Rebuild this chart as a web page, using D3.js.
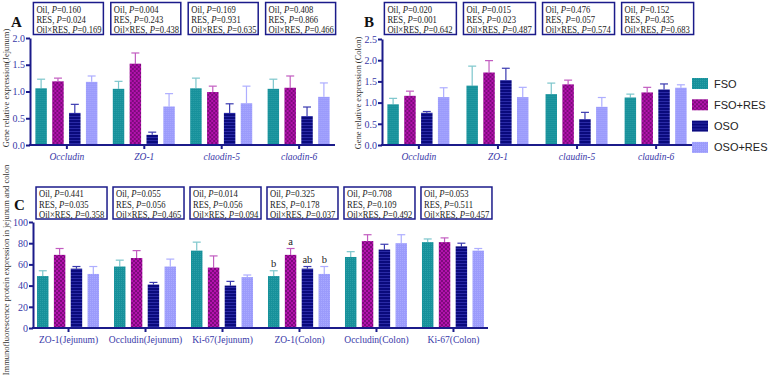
<!DOCTYPE html>
<html>
<head>
<meta charset="utf-8">
<script src="https://cdn.jsdelivr.net/npm/d3@7"></script>
<style>
  body { margin: 0; background: #fff; }
  svg text { font-family: "Liberation Serif", "Times New Roman", serif; }
  svg text.sans { font-family: "Liberation Sans", Arial, sans-serif; }
</style>
</head>
<body>
<div id="chart"></div>
<script>
// groups / treatments
const groups = ["FSO", "FSO+RES", "OSO", "OSO+RES"];

// panel A - jejunum gene expression
const genesA = ["Occludin", "ZO-1", "claodin-5", "claodin-6"];
const meanA = [[1.06, 1.19, 0.60, 1.18], [1.05, 1.52, 0.19, 0.72], [1.06, 0.99, 0.60, 0.78], [1.05, 1.07, 0.54, 0.90]];
const errA = [[0.17, 0.06, 0.16, 0.11], [0.14, 0.20, 0.05, 0.24], [0.19, 0.11, 0.17, 0.32], [0.18, 0.22, 0.17, 0.26]];
const pA = [["0.160", "0.024", "0.169"], ["0.004", "0.243", "0.438"], ["0.169", "0.931", "0.635"], ["0.408", "0.866", "0.466"]];
const ticksA = [0, 0.5, 1.0, 1.5, 2.0];

// panel B - colon gene expression
const genesB = ["Occludin", "ZO-1", "claudin-5", "claudin-6"];
const meanB = [[0.96, 1.16, 0.76, 1.13], [1.40, 1.71, 1.53, 1.13], [1.20, 1.43, 0.61, 0.90], [1.12, 1.24, 1.31, 1.35]];
const errB = [[0.14, 0.11, 0.03, 0.22], [0.46, 0.28, 0.28, 0.23], [0.26, 0.10, 0.16, 0.22], [0.08, 0.12, 0.13, 0.07]];
const pB = [["0.020", "0.001", "0.642"], ["0.015", "0.023", "0.487"], ["0.476", "0.057", "0.574"], ["0.152", "0.435", "0.683"]];
const ticksB = [0, 0.5, 1.0, 1.5, 2.0, 2.5];

// panel C - immunofluorescence
const catsC = ["ZO-1(Jejunum)", "Occludin(Jejunum)", "Ki-67(Jejunum)", "ZO-1(Colon)", "Occludin(Colon)", "Ki-67(Colon)"];
const meanC = [[49, 69, 56, 51], [58, 66, 41, 58], [73, 57, 40, 48], [49, 69, 56, 51], [67, 82, 74, 80], [81, 81, 77, 73]];
const errC = [[5, 6, 2, 7], [6, 7, 2, 7], [8, 11, 4, 2], [5, 6, 2, 7], [5, 6, 5, 8], [3, 4, 3, 2]];
const pC = [["0.441", "0.035", "0.358"], ["0.055", "0.056", "0.465"], ["0.014", "0.056", "0.094"], ["0.325", "0.178", "0.037"], ["0.708", "0.109", "0.492"], ["0.053", "0.511", "0.457"]];
const lettersC = [null, null, null, ["b", "a", "ab", "b"], null, null];
const ticksC = [0, 20, 40, 60, 80, 100];

const axisColor = "#1b1b8a";
const tickTextColor = "#3838a8";
const serif = "'Liberation Serif', 'Times New Roman', serif";

const svg = d3.select("#chart").append("svg")
    .attr("width", 777)
    .attr("height", 383);

// patterns
const defs = svg.append("defs");

let pTeal = defs.append("pattern").attr("id", "pat-teal").attr("patternUnits", "userSpaceOnUse")
    .attr("width", 2).attr("height", 2);
pTeal.append("rect").attr("width", 2).attr("height", 2).attr("fill", "#17919b");
pTeal.append("rect").attr("width", 1).attr("height", 1).attr("fill", "#2a9ea6");

let pPurple = defs.append("pattern").attr("id", "pat-purple").attr("patternUnits", "userSpaceOnUse")
    .attr("width", 4).attr("height", 4);
pPurple.append("rect").attr("width", 4).attr("height", 4).attr("fill", "#b312ad");
pPurple.append("rect").attr("width", 2).attr("height", 2).attr("fill", "#7d0a7c");
pPurple.append("rect").attr("x", 2).attr("y", 2).attr("width", 2).attr("height", 2).attr("fill", "#7d0a7c");

let pNavy = defs.append("pattern").attr("id", "pat-navy").attr("patternUnits", "userSpaceOnUse")
    .attr("width", 4).attr("height", 3);
pNavy.append("rect").attr("width", 4).attr("height", 3).attr("fill", "#0a0a7c");
pNavy.append("rect").attr("y", 2).attr("width", 4).attr("height", 1).attr("fill", "#2a2aa6");

let pLight = defs.append("pattern").attr("id", "pat-light").attr("patternUnits", "userSpaceOnUse")
    .attr("width", 2).attr("height", 2);
pLight.append("rect").attr("width", 2).attr("height", 2).attr("fill", "#9b9bfb");
pLight.append("rect").attr("width", 1).attr("height", 1).attr("fill", "#a9a9ff");

const fills = ["url(#pat-teal)", "url(#pat-purple)", "url(#pat-navy)", "url(#pat-light)"];
const errColors = ["#7cc6cc", "#c25cc0", "#3a3ab0", "#aeaeff"];

function drawPanel(cfg) {
    let g = svg.append("g");

    let y = d3.scaleLinear().domain(cfg.domain).range([cfg.y0, cfg.y1]);
    let x = d3.scalePoint().domain(cfg.cats).range([cfg.x0, cfg.x1]).padding(cfg.pad);
    let inner = d3.scaleBand().domain(groups).range([-31, 31]).paddingInner(0.32);

    // bars
    cfg.cats.forEach((cat, ci) => {
        let cg = g.append("g").attr("transform", `translate(${x(cat)},0)`);
        groups.forEach((grp, gi) => {
            let v = cfg.mean[ci][gi];
            let e = cfg.err[ci][gi];
            let bx = inner(grp);
            let cx = bx + inner.bandwidth() / 2;
            cg.append("line")
                .attr("x1", cx).attr("x2", cx)
                .attr("y1", y(v)).attr("y2", y(v + e))
                .attr("stroke", errColors[gi]).attr("stroke-width", 1.2);
            cg.append("line")
                .attr("x1", cx - 4).attr("x2", cx + 4)
                .attr("y1", y(v + e)).attr("y2", y(v + e))
                .attr("stroke", errColors[gi]).attr("stroke-width", 1.2);
            cg.append("rect")
                .attr("x", bx)
                .attr("y", y(v))
                .attr("width", inner.bandwidth())
                .attr("height", y(0) - y(v))
                .attr("fill", fills[gi]);
            if (cfg.letters && cfg.letters[ci]) {
                cg.append("text")
                    .attr("x", cx)
                    .attr("y", y(v + e) - 4)
                    .attr("text-anchor", "middle")
                    .attr("font-size", "10.5px")
                    .attr("font-family", serif)
                    .attr("fill", "#222")
                    .text(cfg.letters[ci][gi]);
            }
        });
    });

    // y axis
    let yAxis = d3.axisLeft(y).tickValues(cfg.ticks).tickSize(4).tickSizeOuter(0)
        .tickFormat(cfg.fmt);
    let yg = g.append("g").attr("transform", `translate(${cfg.x0},0)`).call(yAxis)
        .attr("font-family", serif);
    yg.select(".domain").attr("stroke", axisColor).attr("stroke-width", 2);
    yg.selectAll(".tick line").attr("stroke", axisColor).attr("stroke-width", 2);
    yg.selectAll(".tick text").attr("fill", tickTextColor)
        .style("font-size", "10px").attr("x", -5);

    // x axis
    let xAxis = d3.axisBottom(x).tickSize(4).tickSizeOuter(0);
    let xg = g.append("g").attr("transform", `translate(0,${cfg.y0})`).call(xAxis)
        .attr("font-family", serif);
    xg.select(".domain").attr("stroke", axisColor).attr("stroke-width", 2)
        .attr("d", `M${cfg.x0 - 1},0H${cfg.x1}`);
    xg.selectAll(".tick line").attr("stroke", axisColor).attr("stroke-width", 2);
    xg.selectAll(".tick text").attr("fill", tickTextColor)
        .style("font-size", "9.5px")
        .style("font-style", cfg.italic ? "italic" : "normal")
        .attr("y", 8);

    // y label
    g.append("text")
        .attr("transform", `translate(${cfg.labelX},${cfg.labelY}) rotate(-90)`)
        .attr("text-anchor", "middle")
        .attr("font-size", cfg.labelSize)
        .attr("font-family", serif)
        .attr("fill", "#333")
        .text(cfg.yLabel);

    // panel letter
    g.append("text")
        .attr("x", cfg.letterX).attr("y", cfg.letterY)
        .attr("font-size", "15px").attr("font-weight", "bold")
        .attr("font-family", serif)
        .attr("fill", "#111")
        .text(cfg.letter);

    // P value boxes
    cfg.cats.forEach((cat, ci) => {
        let bx = x(cat) + cfg.boxDx;
        let bg = g.append("g").attr("transform", `translate(${bx},${cfg.boxY})`);
        bg.append("rect")
            .attr("width", cfg.boxW).attr("height", 32)
            .attr("fill", "#fff").attr("stroke", axisColor).attr("stroke-width", 1.5);
        let labels = ["Oil, ", "RES, ", "Oil\u00d7RES, "];
        labels.forEach((lab, li) => {
            let t = bg.append("text")
                .attr("transform", `translate(3,${10.3 + li * 10.2}) scale(0.86,1)`)
                .attr("font-size", "10px")
                .attr("font-family", serif)
                .attr("fill", "#222");
            t.append("tspan").text(lab);
            t.append("tspan").attr("font-style", "italic").text("P");
            t.append("tspan").text("=" + cfg.p[ci][li]);
        });
    });
}

drawPanel({
    cats: genesA, mean: meanA, err: errA, p: pA, ticks: ticksA,
    domain: [0, 2.0], y0: 145, y1: 38, x0: 30, x1: 335, pad: 0.47,
    fmt: d3.format(".1f"), italic: true,
    yLabel: "Gene relative expression(Jejunum)", labelX: 9, labelY: 88, labelSize: "8.5px",
    letter: "A", letterX: 11, letterY: 27,
    boxDx: -33, boxY: 2.5, boxW: 70
});

drawPanel({
    cats: genesB, mean: meanB, err: errB, p: pB, ticks: ticksB,
    domain: [0, 2.5], y0: 145, y1: 39, x0: 382, x1: 692, pad: 0.46,
    fmt: d3.format(".1f"), italic: true,
    yLabel: "Gene relative expression (Colon)", labelX: 361, labelY: 93, labelSize: "8.5px",
    letter: "B", letterX: 364, letterY: 27,
    boxDx: -34, boxY: 2.5, boxW: 72
});

drawPanel({
    cats: catsC, mean: meanC, err: errC, p: pC, ticks: ticksC, letters: lettersC,
    domain: [0, 100], y0: 328, y1: 222, x0: 33, x1: 488, pad: 0.455,
    fmt: d3.format("d"), italic: false,
    yLabel: "Immunofluorescence protein expression in jejunum and colon", labelX: 9, labelY: 270, labelSize: "8.5px",
    letter: "C", letterX: 14, letterY: 210,
    boxDx: -32, boxY: 187, boxW: 71
});

// legend
const legend = svg.append("g").attr("transform", "translate(692,78)");
groups.forEach((grp, i) => {
    let row = legend.append("g").attr("transform", `translate(0,${i * 21.3})`);
    row.append("rect").attr("width", 16).attr("height", 11).attr("fill", fills[i]);
    row.append("text").attr("class", "sans").attr("x", 22).attr("y", 9.5)
        .attr("font-size", "11px").attr("fill", "#222")
        .text(grp);
});
</script>
</body>
</html>
